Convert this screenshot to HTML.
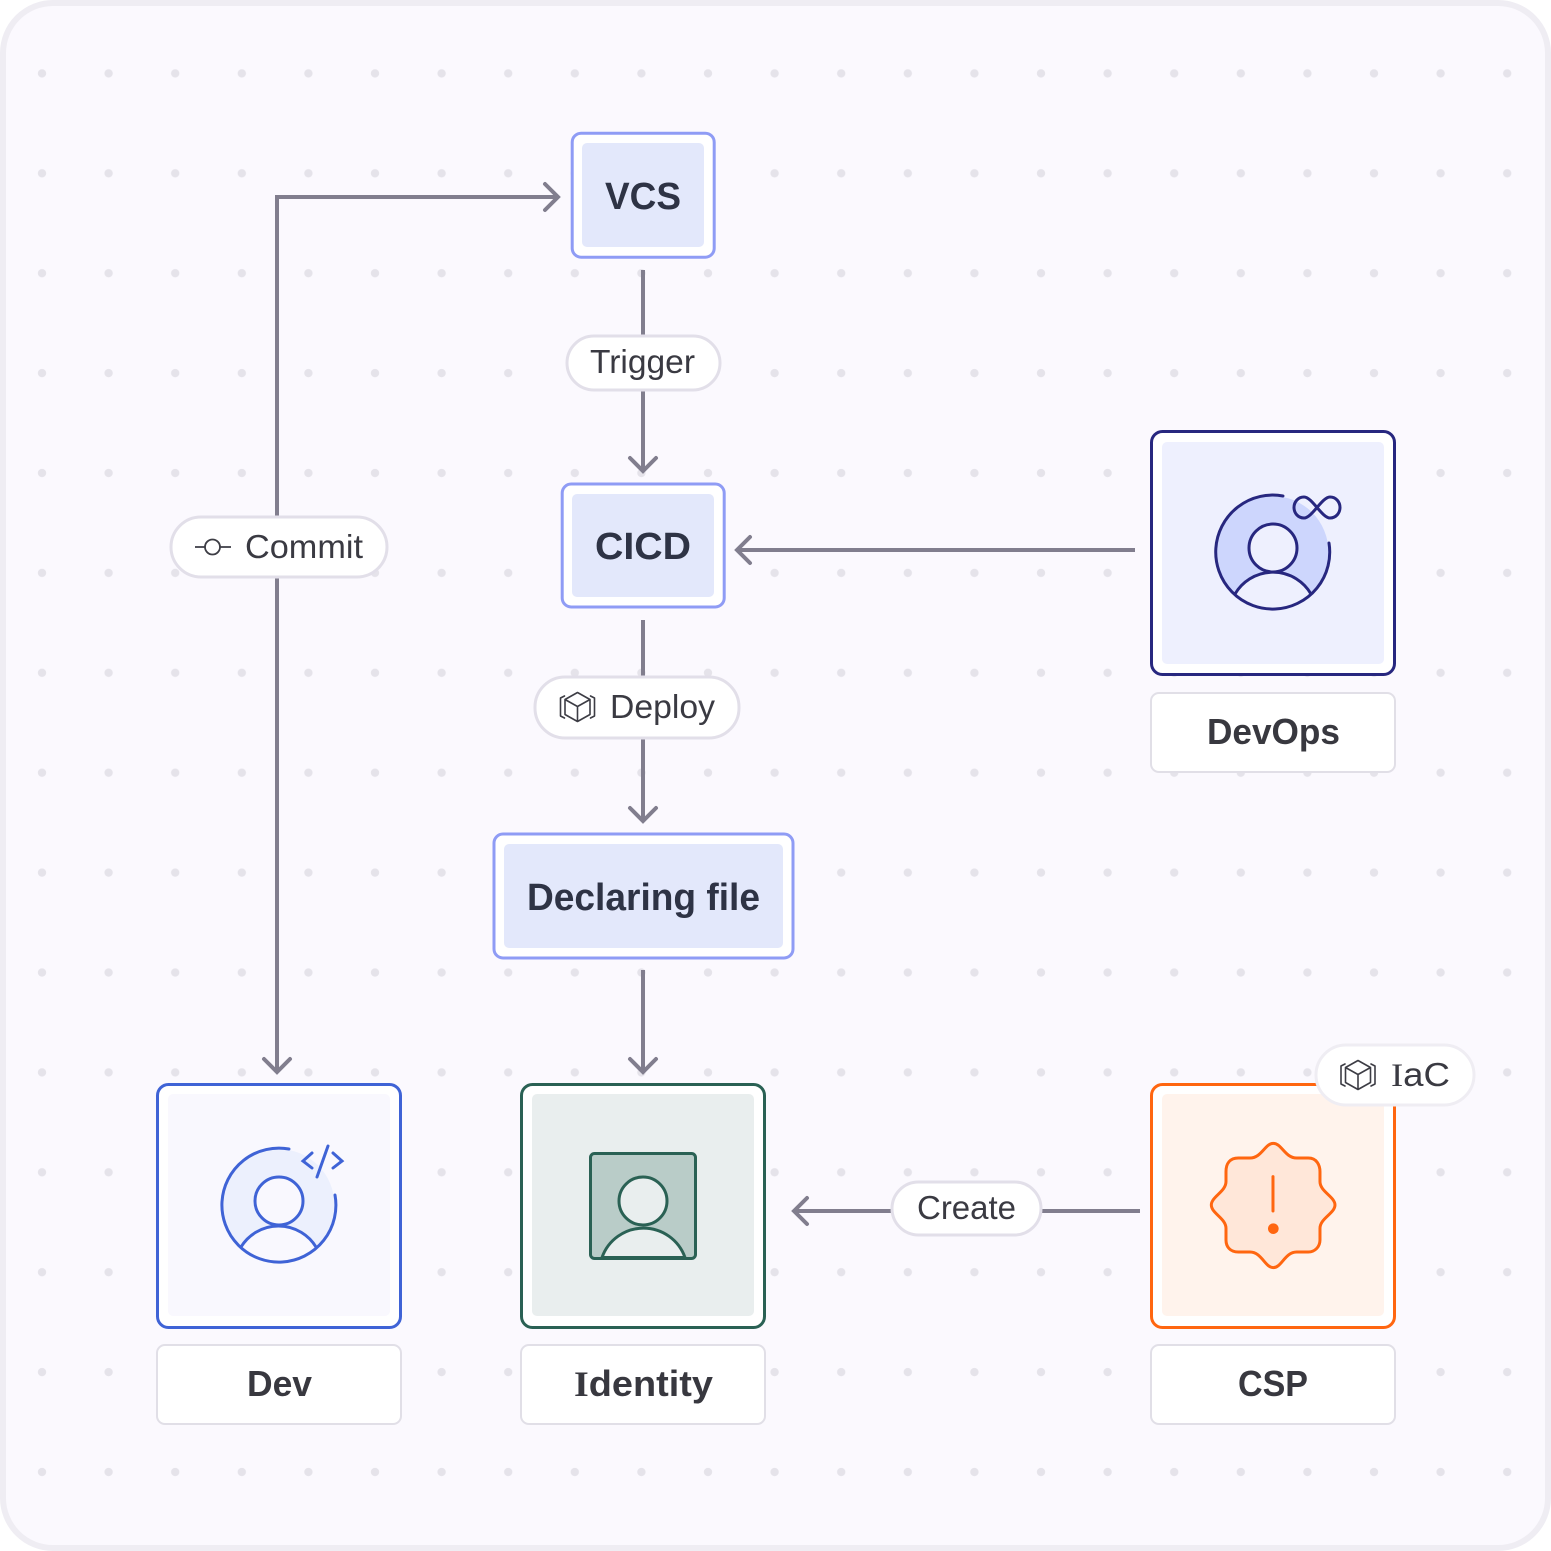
<!DOCTYPE html>
<html><head><meta charset="utf-8"><style>
html,body{margin:0;padding:0;background:#fff}
svg{display:block}
text{font-family:"Liberation Sans",sans-serif;text-anchor:start}
.n{font-size:38px;font-weight:700;fill:#2e3345}
.l{font-size:36px;font-weight:700;fill:#38383f}
.p{font-size:33px;fill:#3a3a42}
.s{font-family:"Liberation Serif",serif}
.c{fill:none;stroke:#817e8e;stroke-width:4}
.h{fill:none;stroke:#817e8e;stroke-width:4;stroke-linecap:round;stroke-linejoin:miter}
.pill{fill:#fff;stroke:#e2dfe9;stroke-width:3}
.lab{fill:#fff;stroke:#e1dfe7;stroke-width:2}
</style></head><body>
<svg width="1551" height="1551" viewBox="0 0 1551 1551" xmlns="http://www.w3.org/2000/svg">
<defs>
<pattern id="d" x="8.7" y="23.4" width="66.6" height="99.9" patternUnits="userSpaceOnUse"><circle cx="33.3" cy="50" r="4.2" fill="#e5e3ea"/></pattern>
<g id="cube" fill="none" stroke="#3d3d45" stroke-width="1.6" stroke-linejoin="round" stroke-linecap="round">
<path d="M0 -14.5 L12.5 -7.5 V7.5 L0 14.5 L-12.5 7.5 V-7.5 Z M-12.5 -7.5 L0 -0.5 L12.5 -7.5 M0 -0.5 V14.5"/>
<path d="M-13 -11 L-17 -9 V9 L-13 11 M13 -11 L17 -9 V9 L13 11"/>
</g>
</defs>
<rect x="3" y="3" width="1545" height="1545" rx="50" fill="#fbf9fe" stroke="#efedf3" stroke-width="6"/>
<rect x="30" y="60" width="1490" height="1425" fill="url(#d)"/>

<!-- connectors -->
<path class="c" d="M277 1071 V197 H557"/>
<path class="h" d="M545 184 L558 197 L545 210"/>
<path class="h" d="M264 1059 L277 1072 L290 1059"/>
<path class="c" d="M643 270 V470"/>
<path class="h" d="M630 458 L643 471 L656 458"/>
<path class="c" d="M643 620 V820"/>
<path class="h" d="M630 808 L643 821 L656 808"/>
<path class="c" d="M643 970 V1071"/>
<path class="h" d="M630 1059 L643 1072 L656 1059"/>
<path class="c" d="M1135 550 H738"/>
<path class="h" d="M750 537 L737 550 L750 563"/>
<path class="c" d="M1140 1211 H795"/>
<path class="h" d="M807 1198 L794 1211 L807 1224"/>

<!-- process nodes -->
<rect x="572.2" y="133.2" width="142" height="124" rx="9" fill="#fff" stroke="#8f9cf5" stroke-width="3"/>
<rect x="582" y="143" width="122" height="104" rx="5" fill="#e3e8fb"/>
<text class="n" x="605" y="209" textLength="76" lengthAdjust="spacingAndGlyphs">VCS</text>
<rect x="562.2" y="484" width="162" height="123" rx="9" fill="#fff" stroke="#8f9cf5" stroke-width="3"/>
<rect x="572" y="494" width="142" height="103" rx="5" fill="#e3e8fb"/>
<text class="n" x="595" y="559" textLength="96" lengthAdjust="spacingAndGlyphs">CICD</text>
<rect x="494" y="834" width="299" height="124" rx="9" fill="#fff" stroke="#8f9cf5" stroke-width="3"/>
<rect x="504" y="844" width="279" height="104" rx="5" fill="#e3e8fb"/>
<text class="n" x="527" y="910" textLength="233" lengthAdjust="spacingAndGlyphs">Declaring file</text>

<!-- DevOps -->
<rect x="1151.5" y="431.5" width="243" height="243" rx="11" fill="#fff" stroke="#27277f" stroke-width="3"/>
<rect x="1162" y="442" width="222" height="222" rx="5" fill="#eef0fe"/>
<circle cx="1272.5" cy="552" r="56" fill="#cdd6fd"/>
<path d="M1235 594 A44 44 0 0 1 1311 594 A57 57 0 0 1 1235 594Z" fill="#eef0fe"/>
<circle cx="1273" cy="548" r="24" fill="#eef0fe"/>
<g fill="none" stroke="#27277f" stroke-width="3" stroke-linecap="round">
<path d="M1283 496 A57 57 0 1 0 1329 543"/>
<circle cx="1273" cy="548" r="24"/>
<path d="M1235 594 A44 44 0 0 1 1311 594"/>
<path d="M1304 497 C1312 497 1322 518 1330 518 C1336 518 1340 513 1340 507.5 C1340 502 1336 497 1330 497 C1322 497 1312 518 1304 518 C1298 518 1294 513 1294 507.5 C1294 502 1298 497 1304 497Z"/>
</g>
<rect x="1151" y="693" width="244" height="79" rx="8" class="lab"/>
<text class="l" x="1207" y="744" textLength="133" lengthAdjust="spacingAndGlyphs">DevOps</text>

<!-- Dev -->
<rect x="157.5" y="1084.5" width="243" height="243" rx="11" fill="#fff" stroke="#3f63d6" stroke-width="3"/>
<rect x="168" y="1094" width="222" height="222" rx="5" fill="#f9f8fe"/>
<circle cx="278.5" cy="1205" r="56" fill="#ecf0fd"/>
<path d="M241 1247 A44 44 0 0 1 316 1247 A57 57 0 0 1 241 1247Z" fill="#f9f8fe"/>
<circle cx="279" cy="1201" r="24" fill="#f9f8fe"/>
<g fill="none" stroke="#3f63d6" stroke-width="3" stroke-linecap="round">
<path d="M289 1149 A57 57 0 1 0 335 1195"/>
<circle cx="279" cy="1201" r="24"/>
<path d="M241 1247 A44 44 0 0 1 316 1247"/>
<path d="M312 1153 L303 1161 L312 1168 M328 1146 L317 1177 M333 1153 L342 1161 L333 1168"/>
</g>
<rect x="157" y="1345" width="244" height="79" rx="8" class="lab"/>
<text class="l" x="247" y="1396" textLength="65" lengthAdjust="spacingAndGlyphs">Dev</text>

<!-- Identity -->
<rect x="521.5" y="1084.5" width="243" height="243" rx="11" fill="#fff" stroke="#2a6154" stroke-width="3"/>
<rect x="532" y="1094" width="222" height="222" rx="5" fill="#e9eeee"/>
<rect x="590.5" y="1153.5" width="105" height="105" rx="4" fill="#b9ccc8" stroke="#2a6154" stroke-width="3"/>
<path d="M602 1257.5 A44 44 0 0 1 685 1257.5Z" fill="#e9eeee" stroke="#2a6154" stroke-width="3"/>
<circle cx="643" cy="1201" r="24" fill="#e9eeee" stroke="#2a6154" stroke-width="3"/>
<rect x="521" y="1345" width="244" height="79" rx="8" class="lab"/>
<text class="l" x="574" y="1396" textLength="139" lengthAdjust="spacingAndGlyphs"><tspan class="s">I</tspan>dentity</text>

<!-- CSP -->
<rect x="1151.5" y="1084.5" width="243" height="243" rx="11" fill="#fff" stroke="#ff6610" stroke-width="3"/>
<rect x="1162" y="1094" width="222" height="222" rx="5" fill="#fff3ec"/>
<g transform="translate(1140 1040) scale(.3333)">
<path d="M400 310 C425 310 435 354 470 354 L505 354 C530 354 540 375 540 395 L540 425 C540 455 585 470 585 495 C585 520 540 535 540 565 L540 600 C540 620 525 636 505 636 L470 636 C435 636 425 683 400 683 C375 683 365 636 330 636 L295 636 C270 636 258 620 258 600 L258 565 C258 535 214 520 214 495 C214 470 258 455 258 425 L258 395 C258 370 270 354 295 354 L330 354 C365 354 375 310 400 310Z" fill="#ffe7d9" stroke="#ff6610" stroke-width="9"/>
<path d="M399 410 V513" stroke="#ff6610" stroke-width="9" stroke-linecap="round"/>
<circle cx="400" cy="566" r="16" fill="#ff6610"/>
</g>
<rect x="1151" y="1345" width="244" height="79" rx="8" class="lab"/>
<text class="l" x="1238" y="1396" textLength="70" lengthAdjust="spacingAndGlyphs">CSP</text>

<!-- pills -->
<rect x="567" y="336" width="153" height="54" rx="27" class="pill"/>
<text class="p" x="590" y="373" textLength="105" lengthAdjust="spacingAndGlyphs">Trigger</text>

<rect x="171" y="517" width="216" height="60" rx="30" class="pill"/>
<g fill="none" stroke="#3d3d45" stroke-width="1.8"><path d="M195 547 H205 M220 547 H231"/><circle cx="212.5" cy="547" r="7.5"/></g>
<text class="p" x="245" y="558" textLength="118" lengthAdjust="spacingAndGlyphs">Commit</text>

<rect x="535" y="677" width="204" height="61" rx="30" class="pill"/>
<use href="#cube" transform="translate(577.5 707)"/>
<text class="p" x="610" y="718" textLength="105" lengthAdjust="spacingAndGlyphs">Deploy</text>

<rect x="892" y="1182" width="149" height="53" rx="26.5" class="pill"/>
<text class="p" x="917" y="1219" textLength="99" lengthAdjust="spacingAndGlyphs">Create</text>

<rect x="1316" y="1045" width="158" height="60" rx="30" fill="#fff" stroke="#efedf3" stroke-width="3"/>
<use href="#cube" transform="translate(1358 1075)"/>
<text class="p" x="1391" y="1086" textLength="59" lengthAdjust="spacingAndGlyphs"><tspan class="s">I</tspan>aC</text>
</svg>
</body></html>
